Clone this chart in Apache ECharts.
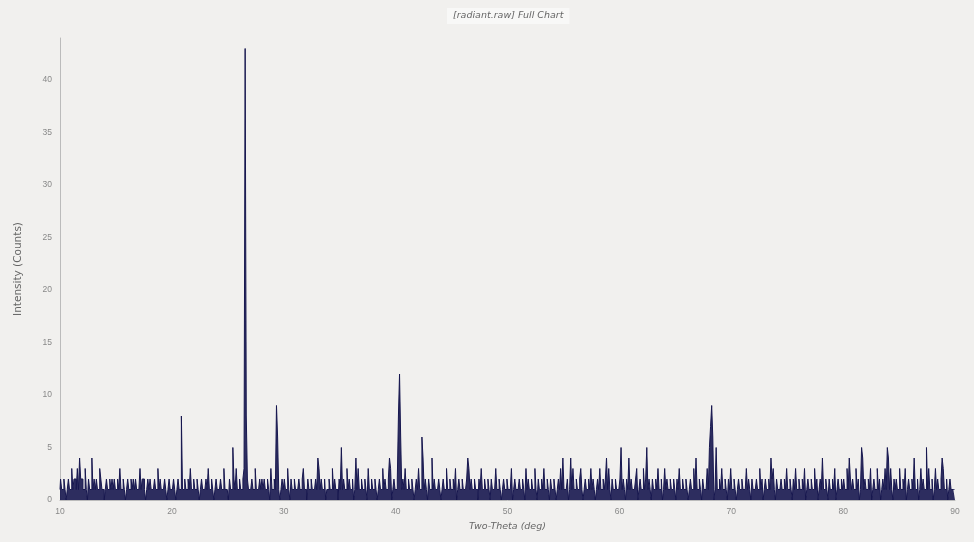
<!DOCTYPE html>
<html>
<head>
<meta charset="utf-8">
<script src="https://cdn.jsdelivr.net/npm/echarts@6/dist/echarts.min.js"></script>
<style>
  html, body { margin: 0; padding: 0; background: #f1f0ee; }
  #chart { width: 974px; height: 542px; }
</style>
</head>
<body>
<div id="chart"></div>
<script>
// counts, 0.1 deg steps, one array per 10 deg
var base10 = [1,2,1,1,2,1,0,1,2,1, 1,3,1,2,2,1,3,1,1,2, 2,1,1,3,1,0,2,1,1,2, 1,2,1,2,1,1,3,2,1,1, 0,1,2,1,1,2,1,2,1,2,
              1,1,2,1,3,1,1,2,1,0, 1,2,1,1,2,1,2,1,2,1, 1,1,3,1,2,2,1,0,1,2, 1,2,1,1,1,2,1,1,3,1, 2,1,1,1,2,1,0,1,2,1];
var base20 = [1,1,2,1,0,1,2,1,1,3, 1,1,2,1,1,2,1,3,1,1, 2,1,1,2,1,0,1,2,1,1, 1,2,1,3,1,1,2,1,0,1, 2,1,1,1,2,1,1,3,1,1,
              1,0,2,1,1,1,2,1,3,1, 1,2,1,1,2,1,1,0,2,1, 1,1,2,1,1,3,1,1,1,2, 1,2,1,2,1,1,2,1,0,3, 1,1,2,1,1,2,1,0,1,2];
var base30 = [1,2,1,1,3,1,0,2,1,1, 2,1,1,1,2,1,1,2,3,1, 1,0,2,1,1,2,1,1,1,2, 1,1,3,1,2,1,1,2,0,1, 1,2,1,1,3,1,2,1,1,0,
              2,1,1,1,2,1,1,3,1,2, 1,1,2,0,1,2,1,3,1,1, 2,1,1,2,1,0,3,1,1,2, 1,1,2,1,0,1,2,1,1,3, 1,2,1,1,2,1,3,0,1,2];
var base40 = [1,1,2,1,0,1,1,2,1,3, 1,1,2,1,1,2,1,0,1,2, 1,3,1,1,2,1,1,2,1,0, 2,1,1,3,1,2,1,1,1,2, 1,0,1,2,1,1,3,1,1,2,
              1,1,2,1,3,0,1,2,1,1, 2,1,1,1,2,0,3,1,2,1, 1,2,1,1,0,2,1,3,1,1, 2,1,1,2,1,0,2,1,1,1, 3,1,1,2,1,0,1,2,1,1];
var base50 = [2,1,1,1,3,0,1,2,1,1, 1,2,1,1,2,1,0,3,1,2, 1,1,2,1,1,3,1,0,2,1, 1,2,1,3,1,1,2,1,0,2, 1,1,2,1,0,1,2,1,3,1,
              2,1,1,1,2,0,1,2,1,3, 1,1,2,1,1,2,3,1,0,1, 2,1,1,2,1,3,1,2,1,0, 1,2,1,3,1,1,2,1,2,1, 1,3,1,0,2,1,1,2,1,1];
var base60 = [1,2,1,1,2,1,0,2,1,3, 1,2,1,1,1,2,3,0,1,2, 1,1,3,1,2,1,1,2,1,0, 2,1,1,2,1,3,1,1,2,0, 1,3,1,2,1,1,2,1,1,2,
              1,0,2,1,3,1,1,2,1,1, 2,1,0,1,2,1,1,3,1,2, 1,1,2,1,0,2,1,1,1,3, 1,2,1,1,2,0,1,2,1,1, 2,1,3,1,1,2,1,0,2,1];
var base70 = [3,1,1,2,1,0,1,2,1,1, 2,1,1,1,3,1,2,1,0,2, 1,1,1,2,1,1,3,1,2,0, 1,2,1,1,2,1,1,2,3,1, 0,2,1,1,1,2,1,1,2,1,
              3,1,1,2,1,0,2,1,3,1, 1,2,1,1,2,1,3,0,1,2, 1,1,2,1,1,3,1,2,0,1, 2,1,3,1,1,2,1,0,2,1, 1,2,1,3,0,1,2,1,1,2];
var base80 = [1,2,1,1,3,1,0,2,1,2, 1,1,3,1,2,0,1,3,1,1, 2,1,1,2,1,3,0,1,2,1, 1,3,1,2,0,1,2,1,3,1, 1,2,1,3,1,0,2,1,2,1,
              1,3,1,1,2,1,3,0,1,2, 1,1,2,1,3,1,1,2,0,1, 3,1,2,1,1,2,1,3,1,1, 2,0,1,3,1,2,1,1,2,1, 3,1,1,2,0,1,2,1,1,1, 1];

// [two-theta, counts] for the reflections above the noise
var peaks = [
  [11.8, 4], [12.9, 4],
  [20.9, 8], [25.5, 5], [26.5, 3], [26.6, 43], [26.7, 8], [29.4, 9], [29.5, 6],
  [33.1, 4], [35.2, 5], [36.5, 4], [39.5, 4],
  [40.3, 8], [40.4, 12], [40.5, 6], [42.4, 6], [42.5, 4], [43.3, 4], [46.5, 4],
  [55.0, 4], [55.7, 4], [58.9, 4],
  [60.2, 5], [60.9, 4], [62.5, 5], [66.9, 4], [68.1, 5], [68.2, 7], [68.3, 9], [68.4, 6], [68.7, 5],
  [73.6, 4], [78.2, 4],
  [80.6, 4], [81.7, 5], [81.8, 4], [84.0, 5], [84.1, 4], [86.4, 4], [87.5, 5], [88.9, 4]
];

var counts = [].concat(base10, base20, base30, base40, base50, base60, base70, base80);
var data = counts.map(function (c, i) {
    return [+(10 + i * 0.1).toFixed(1), c];
});
peaks.forEach(function (p) {
    var i = Math.round((p[0] - 10) * 10);
    data[i][1] = p[1];
});

var option = {
    backgroundColor: '#f1f0ee',
    animation: false,
    title: {
        text: '[radiant.raw] Full Chart',
        left: 447,
        top: 8,
        backgroundColor: '#f8f8f7',
        padding: [3, 6],
        textStyle: {
            fontFamily: 'DejaVu Sans',
            fontSize: 9.5,
            fontStyle: 'italic',
            fontWeight: 'normal',
            color: '#666'
        }
    },
    grid: {
        left: 60,
        right: 19,
        top: 38,
        bottom: 42
    },
    xAxis: {
        type: 'value',
        min: 10,
        max: 90,
        interval: 10,
        name: 'Two-Theta (deg)',
        nameLocation: 'middle',
        nameGap: 22,
        nameTextStyle: {
            fontFamily: 'DejaVu Sans',
            fontSize: 9.5,
            fontStyle: 'italic',
            color: '#666'
        },
        axisLine: { lineStyle: { color: '#bbb' } },
        axisTick: { show: false },
        splitLine: { show: false },
        axisLabel: { color: '#888', fontSize: 8.5, margin: 7 }
    },
    yAxis: {
        type: 'value',
        min: 0,
        max: 44,
        interval: 5,
        name: 'Intensity (Counts)',
        nameLocation: 'middle',
        nameGap: 36,
        nameTextStyle: {
            fontFamily: 'DejaVu Sans',
            fontSize: 10.5,
            color: '#666'
        },
        axisLine: { show: true, lineStyle: { color: '#bbb' } },
        axisTick: { show: false },
        splitLine: { show: false },
        axisLabel: { color: '#888', fontSize: 8.5, margin: 8, showMaxLabel: false }
    },
    series: [
        {
            type: 'line',
            data: data,
            step: 'middle',
            symbol: 'none',
            lineStyle: { color: '#17174f', width: 1 },
            areaStyle: { color: '#17174f', opacity: 0.9 },
            silent: true
        }
    ]
};

var chart = echarts.init(document.getElementById('chart'));
chart.setOption(option);
</script>
</body>
</html>
